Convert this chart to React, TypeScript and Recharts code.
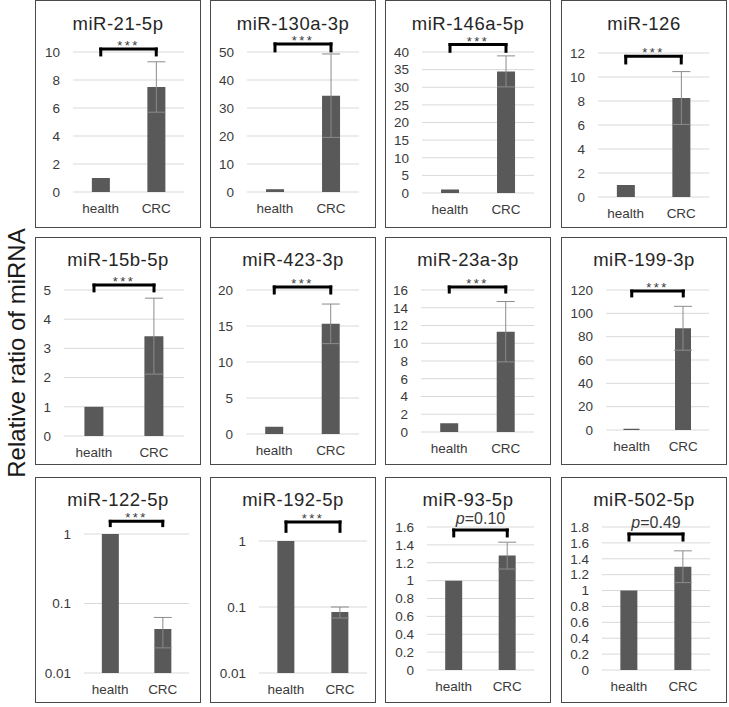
import React from 'react';
import { BarChart, Bar, XAxis, YAxis, CartesianGrid, ErrorBar, ReferenceLine } from 'recharts';

const FONT = '"Liberation Sans", Arial, sans-serif';
const BAR_COLOR = '#595959';
const TEXT_COLOR = '#3a3a3a';

const categories = ['health', 'CRC'];

const panelTitles = [
  'miR-21-5p', 'miR-130a-3p', 'miR-146a-5p', 'miR-126',
  'miR-15b-5p', 'miR-423-3p', 'miR-23a-3p', 'miR-199-3p',
  'miR-122-5p', 'miR-192-5p', 'miR-93-5p', 'miR-502-5p',
];

const healthValues = [1, 1, 1, 1, 1, 1, 1, 1, 1, 1, 1, 1];
const crcValues = [7.5, 34.4, 34.5, 8.25, 3.42, 15.3, 11.3, 87.2, 0.043, 0.084, 1.28, 1.3];
const crcErrors = [1.8, 14.9, 4.4, 2.2, 1.3, 2.75, 3.4, 18.8, 0.02, 0.016, 0.15, 0.2];

const yTicks = [
  [0, 2, 4, 6, 8, 10],
  [0, 10, 20, 30, 40, 50],
  [0, 5, 10, 15, 20, 25, 30, 35, 40],
  [0, 2, 4, 6, 8, 10, 12],
  [0, 1, 2, 3, 4, 5],
  [0, 5, 10, 15, 20],
  [0, 2, 4, 6, 8, 10, 12, 14, 16],
  [0, 20, 40, 60, 80, 100, 120],
  [0.01, 0.1, 1],
  [0.01, 0.1, 1],
  [0, 0.2, 0.4, 0.6, 0.8, 1, 1.2, 1.4, 1.6],
  [0, 0.2, 0.4, 0.6, 0.8, 1, 1.2, 1.4, 1.6, 1.8],
];
const logScale = [false, false, false, false, false, false, false, false, true, true, false, false];

// significance marks between health and CRC
const testLabels = ['***', '***', '***', '***', '***', '***', '***', '***', '***', '***', 'p=0.10', 'p=0.49'];
// bracket bar level and leg ends, in axis units
const bracketTops = [10.21, 52.9, 42.1, 11.72, 5.17, 20.42, 16.34, 119.1, 1.52, 1.94, 1.566, 1.712];
const bracketFeet = [9.79, 50.4, 40.2, 11.17, 4.97, 19.58, 15.77, 114.9, 1.32, 1.4, 1.5, 1.636];

// panel frames and plot boxes (left, right, top, bottom inside the frame)
const PANEL_W = 166;
const COLS = [35, 210, 385, 561];
const ROWS = [
  { top: 0, height: 228, titleTop: 15.5 },
  { top: 237, height: 228, titleTop: 15 },
  { top: 477, height: 226, titleTop: 15 },
];
const plotBoxes = [
  [38, 149, 52, 192],
  [37, 149, 52, 192],
  [37, 149, 52, 193],
  [37, 148, 53, 197],
  [29, 149, 53, 199],
  [36, 149, 53, 197],
  [36, 149, 53, 195],
  [45, 148, 53, 193],
  [49, 154, 57, 196],
  [49, 157, 64, 196],
  [42, 149, 50, 193],
  [41, 149, 50, 193],
];

const renderMark = (text: string) => (props: any) => {
  const vb = props.viewBox || {};
  const cx = vb.x + vb.width / 2;
  const y = vb.y;
  if (text.startsWith('p=')) {
    return (
      <text x={cx} y={y - 6} textAnchor="middle" fontSize={16} fontFamily={FONT} fill={TEXT_COLOR}>
        <tspan fontStyle="italic">p</tspan>
        {text.slice(1)}
      </text>
    );
  }
  return (
    <text x={cx} y={y + 1} textAnchor="middle" fontSize={13} letterSpacing={2.5} fontFamily={FONT} fill={TEXT_COLOR}>
      {text}
    </text>
  );
};

const Panel = ({ i }: { i: number }) => {
  const row = ROWS[Math.floor(i / 4)];
  const left = COLS[i % 4];
  const [pl, pr, pt, pb] = plotBoxes[i];
  const cw = PANEL_W - 2;
  const ch = row.height - 2;
  const ticks = yTicks[i];
  const isLog = logScale[i];

  const data = categories.map((name, k) => ({
    name,
    value: k === 0 ? healthValues[i] : crcValues[i],
    err: k === 0 ? null : crcErrors[i],
  }));

  const bracketStyle = {
    stroke: '#000',
    strokeWidth: 3,
    strokeLinecap: 'square' as const,
    ifOverflow: 'visible' as const,
  };

  return (
    <div
      style={{
        position: 'absolute',
        left,
        top: row.top,
        width: PANEL_W,
        height: row.height,
        border: '1px solid #4a4a4a',
        boxSizing: 'border-box',
        background: '#fff',
      }}
    >
      <div
        style={{
          position: 'absolute',
          left: 0,
          right: 0,
          top: row.titleTop,
          textAlign: 'center',
          fontSize: 18.5,
          letterSpacing: 0.5,
          lineHeight: '14px',
          color: '#262626',
          whiteSpace: 'nowrap',
        }}
      >
        {panelTitles[i]}
      </div>
      <BarChart
        width={cw}
        height={ch}
        data={data}
        margin={{ top: pt - 1, right: cw - (pr - 1), left: 0, bottom: 0 }}
        barCategoryGap="34%"
      >
        <CartesianGrid vertical={false} stroke="#d9d9d9" />
        <XAxis
          dataKey="name"
          axisLine={false}
          tickLine={false}
          height={ch - (pb - 1)}
          tickMargin={5}
          interval={0}
          tick={{ fontSize: 13.5, fill: TEXT_COLOR, fontFamily: FONT }}
        />
        <YAxis
          type="number"
          scale={isLog ? 'log' : 'linear'}
          domain={[ticks[0], ticks[ticks.length - 1]]}
          ticks={ticks}
          allowDataOverflow
          interval={0}
          width={pl - 1}
          axisLine={false}
          tickLine={false}
          tickMargin={7}
          tick={{ fontSize: 13.5, fill: TEXT_COLOR, fontFamily: FONT }}
        />
        <Bar dataKey="value" fill={BAR_COLOR} isAnimationActive={false}>
          <ErrorBar dataKey="err" width={9} stroke="#8c8c8c" strokeWidth={1} direction="y" isAnimationActive={false} />
        </Bar>
        <ReferenceLine
          segment={[{ x: 'health', y: bracketTops[i] }, { x: 'health', y: bracketFeet[i] }]}
          {...bracketStyle}
        />
        <ReferenceLine
          segment={[{ x: 'CRC', y: bracketTops[i] }, { x: 'CRC', y: bracketFeet[i] }]}
          {...bracketStyle}
        />
        <ReferenceLine
          segment={[{ x: 'health', y: bracketTops[i] }, { x: 'CRC', y: bracketTops[i] }]}
          {...bracketStyle}
          label={renderMark(testLabels[i])}
        />
      </BarChart>
    </div>
  );
};

export default function App() {
  return (
    <div
      style={{
        position: 'absolute',
        left: 0,
        top: 0,
        width: 729,
        height: 707,
        background: '#fff',
        fontFamily: FONT,
        overflow: 'hidden',
      }}
    >
      <div
        style={{
          position: 'absolute',
          left: 17,
          top: 353,
          transform: 'translate(-50%, -50%) rotate(-90deg)',
          fontSize: 24,
          color: '#1a1a1a',
          whiteSpace: 'nowrap',
        }}
      >
        Relative ratio of miRNA
      </div>
      {panelTitles.map((_, i) => (
        <Panel key={i} i={i} />
      ))}
    </div>
  );
}
